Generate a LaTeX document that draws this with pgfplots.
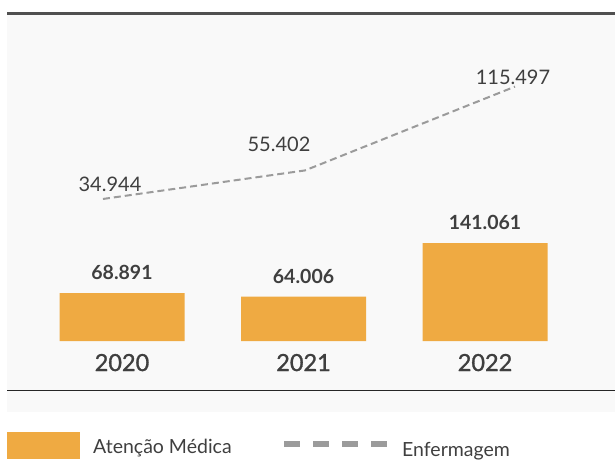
\documentclass[border=0pt]{standalone}
\usepackage{fontspec}
\setmainfont{Lato}
\newfontfamily\medfont[FakeBold=1.2]{Lato}
\usepackage{pgfplots}
\pgfplotsset{compat=1.18}
\definecolor{barc}{HTML}{EFAA42}
\definecolor{linec}{HTML}{9B9B9B}
\definecolor{txt}{HTML}{3F3F3F}
\definecolor{panel}{HTML}{F9F9F9}
\definecolor{topline}{HTML}{505050}
\begin{document}
\begin{tikzpicture}[x=1pt,y=1pt]
\path[use as bounding box] (0,0) rectangle (615,459);
\fill[panel] (7,47) rectangle (615,445);
\draw[line width=3pt, topline] (7,445.5) -- (615,445.5);
\draw[line width=1pt, black!85] (7,68.5) -- (615,68.5);
% bars
\begin{axis}[at={(7pt,118pt)}, anchor=south west, scale only axis,
  width=608pt, height=327pt, hide axis, clip=false,
  xmin=-0.6336, xmax=2.716, ymin=0, ymax=470700,
  point meta=explicit symbolic,
  nodes near coords, every node near coord/.style={anchor=south, inner sep=0pt, yshift=13pt,
    font=\bfseries\fontsize{19.5}{22}\selectfont, text=txt}]
\addplot[ybar, fill=barc, draw=none, bar width=125pt] coordinates {
  (0,68891) [68.891]
  (1,64006) [64.006]
  (2,141061) [141.061]
};
\node[anchor=base, inner sep=0pt, font=\medfont\fontsize{23.5}{26}\selectfont, text=txt] at (axis cs:0,0) [yshift=-30pt] {2020};
\node[anchor=base, inner sep=0pt, font=\medfont\fontsize{23.5}{26}\selectfont, text=txt] at (axis cs:1,0) [yshift=-30pt] {2021};
\node[anchor=base, inner sep=0pt, font=\medfont\fontsize{23.5}{26}\selectfont, text=txt] at (axis cs:2,0) [yshift=-30pt] {2022};
\end{axis}
% line
\begin{axis}[at={(7pt,118pt)}, anchor=south west, scale only axis,
  width=608pt, height=327pt, hide axis, clip=false,
  xmin=-0.6336, xmax=2.716, ymin=-66900, ymax=167560]
\addplot[linec, line width=2pt, dash pattern=on 7pt off 4pt, mark=none] coordinates {
  (-0.105,34944) (1.008,55402) (2.165,115497)
};
\end{axis}
\begin{scope}[every node/.style={inner sep=0pt, text=txt, font=\fontsize{20}{22}\selectfont}]
\node[anchor=base] at (110,268) {34.944};
\node[anchor=base] at (279,307.5) {55.402};
\node[anchor=base] at (513,374.5) {115.497};
\end{scope}
% legend
\fill[barc] (7,0) rectangle (80,27);
\node[anchor=base west, inner sep=0pt, text=txt, font=\fontsize{19.5}{22}\selectfont] at (93,6) {Atenção Médica};
\draw[linec, line width=6pt, dash pattern=on 16pt off 13pt] (284,15) -- (390,15);
\node[anchor=base west, inner sep=0pt, text=txt, font=\fontsize{19.5}{22}\selectfont] at (402,3) {Enfermagem};
\end{tikzpicture}
\end{document}
